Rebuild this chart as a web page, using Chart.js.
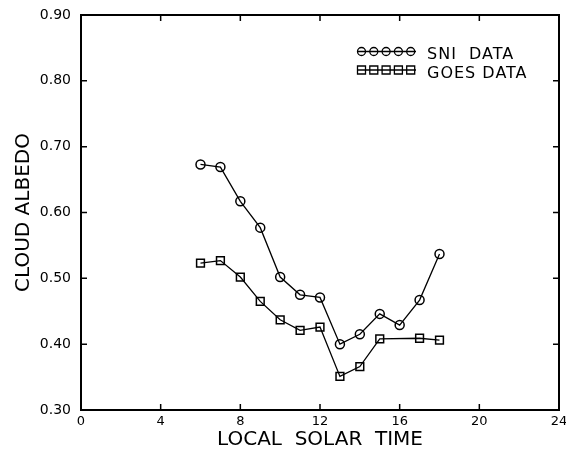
<!DOCTYPE html>
<html>
<head>
<meta charset="utf-8">
<script src="https://cdn.jsdelivr.net/npm/chart.js@4/dist/chart.umd.min.js"></script>
<style>
    html, body { margin: 0; padding: 0; background: #fff; }
    #wrap { width: 566px; height: 452px; position: relative; }
</style>
</head>
<body>
<div id="wrap"><canvas id="albedo-chart"></canvas></div>
<script>
// Cloud albedo vs local solar time, SNI vs GOES
const SNI_HOURS = [6, 7, 8, 9, 10, 11, 12, 13, 14, 15, 16, 17, 18];
const SNI_ALBEDO = [0.673, 0.669, 0.617, 0.577, 0.502, 0.475, 0.471, 0.400, 0.415, 0.446, 0.429, 0.467, 0.537];

const GOES_HOURS = [6, 7, 8, 9, 10, 11, 12, 13, 14, 15, 17, 18];
const GOES_ALBEDO = [0.523, 0.527, 0.502, 0.465, 0.437, 0.421, 0.426, 0.351, 0.366, 0.408, 0.409, 0.406];

const HOUR_TICKS = [0, 4, 8, 12, 16, 20, 24];
const ALBEDO_TICKS = [0.30, 0.40, 0.50, 0.60, 0.70, 0.80, 0.90];

const SERIES_LABELS = ['SNI  DATA', 'GOES DATA'];
const X_TITLE = 'LOCAL  SOLAR  TIME';
const Y_TITLE = 'CLOUD ALBEDO';

const INK = '#000000';
const FONT = "'DejaVu Sans', sans-serif";

const toPoints = (xs, ys) => xs.map((h, i) => ({ x: h, y: ys[i] }));

// box frame plus inward tick marks on all four sides
const frameTicks = {
    id: 'frameTicks',
    afterDatasetsDraw(chart) {
        const { ctx, chartArea: a, scales: { x, y } } = chart;
        ctx.save();
        ctx.strokeStyle = INK;
        ctx.lineWidth = 2;
        ctx.strokeRect(a.left, a.top, a.right - a.left, a.bottom - a.top);
        ctx.lineWidth = 1.5;
        ctx.beginPath();
        x.ticks.forEach(t => {
            const px = x.getPixelForValue(t.value);
            ctx.moveTo(px, a.bottom); ctx.lineTo(px, a.bottom - 6);
            ctx.moveTo(px, a.top); ctx.lineTo(px, a.top + 6);
        });
        y.ticks.forEach(t => {
            const py = y.getPixelForValue(t.value);
            ctx.moveTo(a.left, py); ctx.lineTo(a.left + 6, py);
            ctx.moveTo(a.right, py); ctx.lineTo(a.right - 6, py);
        });
        ctx.stroke();
        ctx.restore();
    }
};

// legend drawn inside the plot, upper right
const insetLegend = {
    id: 'insetLegend',
    afterDraw(chart) {
        const { ctx } = chart;
        const rows = [
            { label: SERIES_LABELS[0], style: 'circle', y: 51.5, textY: 59 },
            { label: SERIES_LABELS[1], style: 'rect', y: 70, textY: 77.5 },
        ];
        ctx.save();
        ctx.strokeStyle = INK;
        ctx.fillStyle = INK;
        ctx.lineWidth = 1.3;
        rows.forEach(r => {
            ctx.beginPath();
            ctx.moveTo(357, r.y);
            ctx.lineTo(416, r.y);
            ctx.stroke();
            for (let i = 0; i < 5; i++) {
                const cx = 361.5 + i * 12.3;
                ctx.beginPath();
                if (r.style === 'circle') ctx.arc(cx, r.y, 4, 0, Math.PI * 2);
                else ctx.rect(cx - 4, r.y - 4, 8, 8);
                ctx.stroke();
            }
            ctx.font = `16px ${FONT}`;
            ctx.letterSpacing = '1px';
            ctx.textBaseline = 'alphabetic';
            ctx.fillText(r.label, 427, r.textY);
        });
        ctx.restore();
    }
};

const ctx = document.getElementById('albedo-chart').getContext('2d');

new Chart(ctx, {
    type: 'line',
    data: {
        datasets: [
            {
                label: SERIES_LABELS[0],
                data: toPoints(SNI_HOURS, SNI_ALBEDO),
                borderColor: INK,
                borderWidth: 1.3,
                backgroundColor: 'transparent',
                pointStyle: 'circle',
                pointRadius: 4.5,
                pointBorderWidth: 1.5,
                pointBorderColor: INK,
                pointBackgroundColor: 'transparent',
                tension: 0,
            },
            {
                label: SERIES_LABELS[1],
                data: toPoints(GOES_HOURS, GOES_ALBEDO),
                borderColor: INK,
                borderWidth: 1.3,
                backgroundColor: 'transparent',
                pointStyle: 'rect',
                pointRadius: 5.5,
                pointBorderWidth: 1.5,
                pointBorderColor: INK,
                pointBackgroundColor: 'transparent',
                tension: 0,
            }
        ]
    },
    options: {
        responsive: true,
        maintainAspectRatio: false,
        animation: false,
        devicePixelRatio: 1,
        layout: { padding: { top: 15, right: 7, left: 0, bottom: 0 } },
        plugins: {
            legend: { display: false },
            tooltip: { enabled: false },
        },
        scales: {
            x: {
                type: 'linear',
                min: 0,
                max: 24,
                grid: { display: false, drawTicks: false },
                border: { display: false },
                afterBuildTicks: s => { s.ticks = HOUR_TICKS.map(v => ({ value: v })); },
                afterFit: s => { s.height = 42; s.paddingLeft = 0; s.paddingRight = 0; },
                ticks: {
                    color: INK,
                    padding: 4,
                    maxRotation: 0,
                    font: { family: FONT, size: 13 },
                    callback: v => String(v),
                },
                title: {
                    display: true,
                    text: X_TITLE,
                    color: INK,
                    padding: { top: 0, bottom: 0 },
                    font: { family: FONT, size: 20 },
                }
            },
            y: {
                type: 'linear',
                min: 0.30,
                max: 0.90,
                grid: { display: false, drawTicks: false },
                border: { display: false },
                afterBuildTicks: s => { s.ticks = ALBEDO_TICKS.map(v => ({ value: v })); },
                afterFit: s => { s.width = 81; s.paddingTop = 0; s.paddingBottom = 0; },
                ticks: {
                    color: INK,
                    padding: 10,
                    font: { family: FONT, size: 14 },
                    callback: v => Number(v).toFixed(2),
                },
                title: {
                    display: true,
                    text: Y_TITLE,
                    color: INK,
                    padding: { top: 12, bottom: 0 },
                    font: { family: FONT, size: 20 },
                }
            }
        }
    },
    plugins: [frameTicks, insetLegend]
});
</script>
</body>
</html>
